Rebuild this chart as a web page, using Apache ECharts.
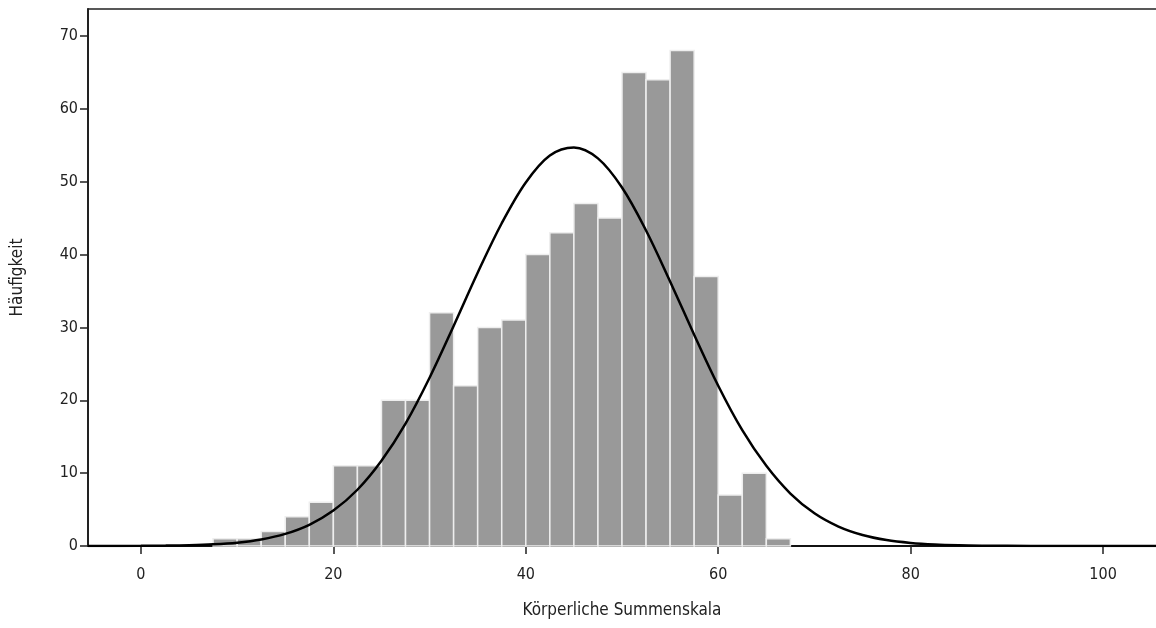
<!DOCTYPE html>
<html>
<head>
<meta charset="utf-8">
<script src="https://cdn.jsdelivr.net/npm/echarts@6/dist/echarts.min.js"></script>
<style>
html,body{margin:0;padding:0;background:#fff;}
#chart{width:1156px;height:628px;}
</style>
</head>
<body>
<div id="chart"></div>
<script>
// Histogram bins (left edge of each bin, bin width 2.5)
const binStarts = [7.5, 10, 12.5, 15, 17.5, 20, 22.5, 25, 27.5, 30, 32.5, 35, 37.5, 40, 42.5, 45, 47.5, 50, 52.5, 55, 57.5, 60, 62.5, 65];
const binCounts = [1, 1, 2, 4, 6, 11, 11, 20, 20, 32, 22, 30, 31, 40, 43, 47, 45, 65, 64, 68, 37, 7, 10, 1];
const binWidth = 2.5;

// Normal curve points
const curveX = [-5.5, 0, 2.5, 5, 7.5, 10, 12.5, 15, 17.5, 20, 22.5, 25, 27.5, 30, 32.5, 35, 37.5, 40, 42.5, 45, 47.5, 50, 52.5, 55, 57.5, 60, 62.5, 65, 67.5, 70, 72.5, 75, 77.5, 80, 82.5, 85, 87.5, 90, 95, 100, 105.5];
const curveY = [0, 0.02, 0.05, 0.11, 0.23, 0.46, 0.9, 1.66, 2.91, 4.86, 7.72, 11.7, 16.8, 23.1, 30.2, 37.5, 44.3, 49.9, 53.6, 54.7, 53.2, 49.2, 43.3, 36.3, 29.0, 22.0, 15.9, 11.0, 7.2, 4.49, 2.67, 1.51, 0.81, 0.42, 0.2, 0.09, 0.04, 0.02, 0, 0, 0];

// Tick labels
const xTicks = [0, 20, 40, 60, 80, 100];
const xTitle = 'Körperliche Summenskala';
const yTitle = 'Häufigkeit';

const font = "'DejaVu Sans Condensed', 'DejaVu Sans', sans-serif";

const chart = echarts.init(document.getElementById('chart'), null, {renderer: 'canvas'});

const barData = binStarts.map((s, i) => [s, s + binWidth, binCounts[i]]);
const lineData = curveX.map((x, i) => [x, curveY[i]]);

chart.setOption({
  animation: false,
  backgroundColor: '#ffffff',
  grid: {left: 88, right: 0, top: 9, bottom: 82, containLabel: false},
  xAxis: [{
    type: 'value',
    min: -5.5,
    max: 105.5,
    position: 'bottom',
    name: xTitle,
    nameLocation: 'middle',
    nameGap: 56,
    nameTextStyle: {color: '#222', fontSize: 17, fontFamily: font},
    axisLine: {show: true, onZero: false, lineStyle: {color: '#111', width: 2}},
    axisTick: {show: true, length: 8, customValues: xTicks, lineStyle: {color: '#222', width: 1.5}},
    axisLabel: {show: true, customValues: xTicks, color: '#222', fontSize: 16, fontFamily: font, margin: 21},
    splitLine: {show: false}
  }, {
    type: 'value',
    min: -5.5,
    max: 105.5,
    position: 'top',
    axisLine: {show: true, onZero: false, lineStyle: {color: '#222', width: 1.5}},
    axisTick: {show: false},
    axisLabel: {show: false},
    splitLine: {show: false}
  }],
  yAxis: {
    type: 'value',
    min: 0,
    max: 73.7,
    interval: 10,
    name: yTitle,
    nameLocation: 'middle',
    nameGap: 62,
    nameRotate: 90,
    nameTextStyle: {color: '#222', fontSize: 17, fontFamily: font},
    axisLine: {show: true, onZero: false, lineStyle: {color: '#222', width: 2}},
    axisTick: {show: true, length: 8, lineStyle: {color: '#222', width: 1.5}},
    axisLabel: {
      color: '#222', fontSize: 16, fontFamily: font, margin: 10,
      showMaxLabel: false,
      formatter: v => (v % 10 === 0 ? String(v) : '')
    },
    splitLine: {show: false}
  },
  series: [{
    type: 'custom',
    xAxisIndex: 0,
    z: 2,
    data: barData,
    encode: {x: [0, 1], y: 2},
    renderItem: function (params, api) {
      const p0 = api.coord([api.value(0), 0]);
      const p1 = api.coord([api.value(1), api.value(2)]);
      return {
        type: 'rect',
        shape: {x: p0[0], y: p1[1], width: p1[0] - p0[0], height: p0[1] - p1[1]},
        style: {fill: '#999999', stroke: '#eeeeee', lineWidth: 1.5}
      };
    }
  }, {
    type: 'line',
    xAxisIndex: 0,
    z: 5,
    data: lineData,
    smooth: 0.35,
    showSymbol: false,
    symbol: 'none',
    lineStyle: {color: '#000', width: 2.5}
  }]
});
</script>
</body>
</html>
